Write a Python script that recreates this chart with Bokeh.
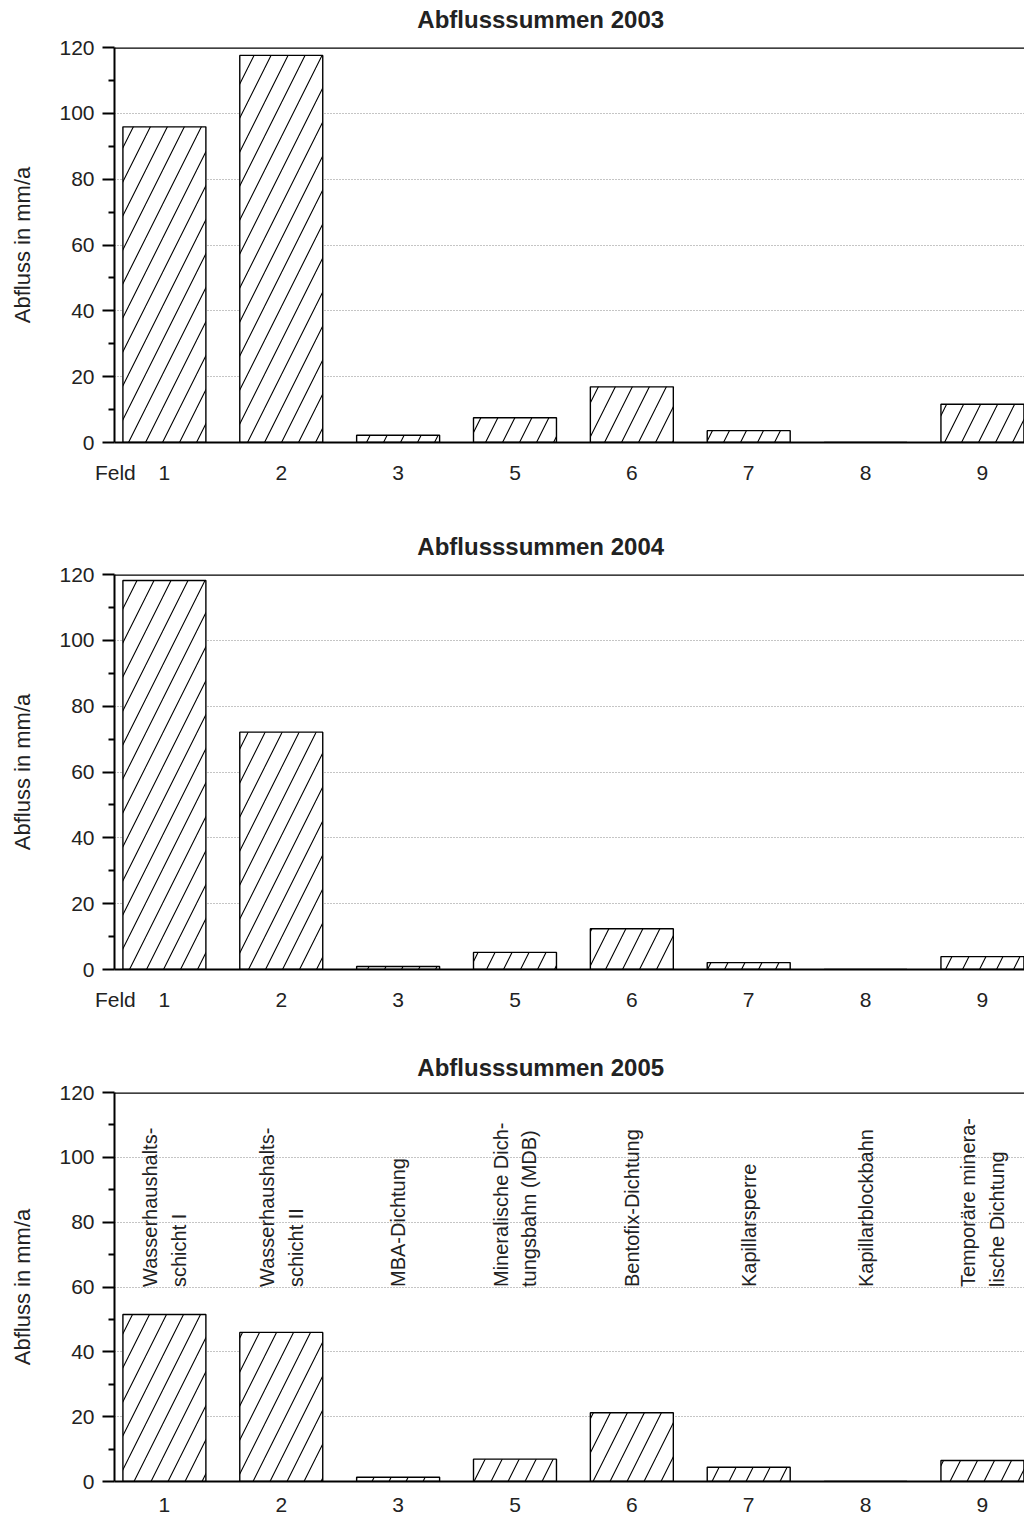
from bokeh.plotting import figure
from bokeh.models import FixedTicker, Range1d, Span, ColumnDataSource, LinearAxis
from bokeh.layouts import column
from bokeh.core.properties import value
from bokeh.embed import file_html
from bokeh.resources import INLINE

# ---- data ----
fields = ["1", "2", "3", "5", "6", "7", "8", "9"]
abfluss_2003 = [95.9, 117.6, 2.2, 7.5, 16.9, 3.6, 0.0, 11.6]
abfluss_2004 = [118.2, 72.1, 0.9, 5.2, 12.4, 2.1, 0.0, 3.9]
abfluss_2005 = [51.5, 46.0, 1.3, 6.9, 21.2, 4.4, 0.0, 6.5]
field_names = [
    "Wasserhaushalts-\nschicht I",
    "Wasserhaushalts-\nschicht II",
    "MBA-Dichtung",
    "Mineralische Dich-\ntungsbahn (MDB)",
    "Bentofix-Dichtung",
    "Kapillarsperre",
    "Kapillarblockbahn",
    "Temporäre minera-\nlische Dichtung",
]
y_ticks = [0, 20, 40, 60, 80, 100, 120]
y_minor = [10, 30, 50, 70, 90, 110]
title_prefix = "Abflusssummen "
y_label = "Abfluss in mm/a"
x_prefix = "Feld"

FONT = "Liberation Sans"
TXT = "#222222"


def panel(year, vals, height, top, bottom, title_standoff, x_standoff,
          feld=True, names=None):
    idx = list(range(len(fields)))
    p = figure(width=1024, height=height, title=None,
               x_range=Range1d(-0.427, 7.36), y_range=Range1d(0, 120),
               output_backend="svg", toolbar_location=None,
               min_border_left=114, min_border_right=0,
               min_border_top=top, min_border_bottom=bottom)
    p.outline_line_color = None
    p.background_fill_color = "white"

    src = ColumnDataSource(dict(x=idx, top=vals))
    p.vbar(x="x", top="top", width=0.71, source=src,
           fill_color="white", line_color="black", line_width=1.4,
           hatch_pattern="/", hatch_scale=34, hatch_weight=1.1,
           hatch_color="black")

    # x axis
    ticks = list(idx)
    overrides = {i: f for i, f in zip(idx, fields)}
    if feld:
        ticks = [-0.42] + ticks
        overrides[-0.42] = x_prefix
    p.xaxis.ticker = FixedTicker(ticks=ticks)
    p.xaxis.major_label_overrides = overrides
    p.xaxis.major_tick_line_color = None
    p.xaxis.minor_tick_line_color = None
    p.xaxis.axis_line_width = 2
    p.xaxis.axis_line_color = "black"
    p.xaxis.major_label_standoff = x_standoff
    p.xaxis.major_label_text_font = FONT
    p.xaxis.major_label_text_font_size = "21px"
    p.xaxis.major_label_text_color = TXT
    p.xgrid.grid_line_color = None

    # title as a label-only axis above the frame
    tax = LinearAxis(ticker=FixedTicker(ticks=[3.22]),
                     major_label_overrides={3.22: title_prefix + year},
                     axis_line_color=None, major_tick_line_color=None,
                     minor_tick_line_color=None,
                     major_label_standoff=title_standoff,
                     major_label_text_font=FONT,
                     major_label_text_font_size="24px",
                     major_label_text_font_style="bold",
                     major_label_text_color=TXT)
    p.add_layout(tax, "above")

    # y axis
    p.yaxis.ticker = FixedTicker(ticks=y_ticks, minor_ticks=y_minor)
    p.yaxis.major_tick_in = 0
    p.yaxis.major_tick_out = 12
    p.yaxis.minor_tick_in = 0
    p.yaxis.minor_tick_out = 6
    p.yaxis.major_tick_line_width = 2
    p.yaxis.minor_tick_line_width = 2
    p.yaxis.major_tick_line_color = "black"
    p.yaxis.minor_tick_line_color = "black"
    p.yaxis.axis_line_width = 2
    p.yaxis.axis_line_color = "black"
    p.yaxis.major_label_standoff = 8
    p.yaxis.major_label_text_font = FONT
    p.yaxis.major_label_text_font_size = "21px"
    p.yaxis.major_label_text_color = TXT
    p.yaxis.axis_label = y_label
    p.yaxis.axis_label_text_font = FONT
    p.yaxis.axis_label_text_font_size = "22px"
    p.yaxis.axis_label_text_font_style = "normal"
    p.yaxis.axis_label_text_color = TXT
    p.yaxis.axis_label_standoff = 21
    p.ygrid.ticker = FixedTicker(ticks=y_ticks[1:-1])
    p.ygrid.grid_line_color = "#8a8a8a"
    p.ygrid.grid_line_dash = "1 2"
    p.ygrid.grid_line_width = 1.2

    p.add_layout(Span(location=120, dimension="width", line_color="black",
                      line_width=2.5))

    if names is not None:
        ns = ColumnDataSource(dict(x=idx, y=[60] * len(idx), t=names))
        p.text(x="x", y="y", text="t", source=ns, angle=1.5708,
               text_align="left", text_baseline="middle",
               text_font=value(FONT), text_font_size="20px",
               text_line_height=1.3, text_color=TXT)
    return p


p1 = panel("2003", abfluss_2003, 529, 47, 87, 9, 12)
p2 = panel("2004", abfluss_2004, 521, 45, 81, 9, 12)
p3 = panel("2005", abfluss_2005, 468, 42, 37, 6, 10, feld=False,
           names=field_names)

layout = column(p1, p2, p3, spacing=0)
open("out.html", "w").write(file_html(layout, INLINE))
